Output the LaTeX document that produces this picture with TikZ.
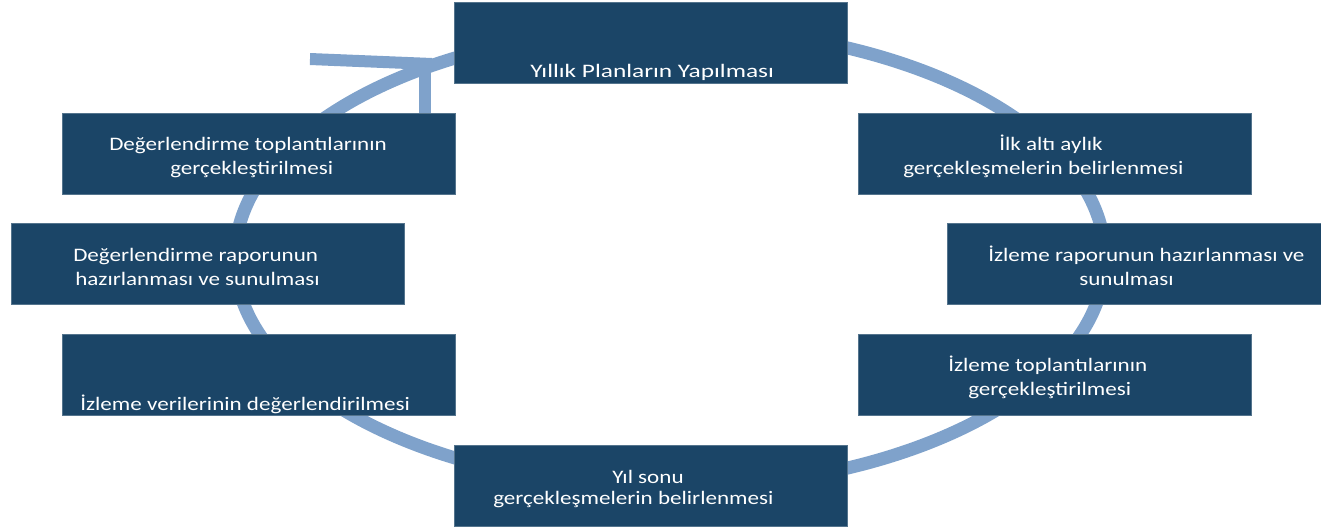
\documentclass[tikz,border=0pt]{standalone}
\usepackage{fontspec}
\setmainfont{Carlito}[FakeStretch=1.21]
\definecolor{boxblue}{RGB}{27,69,103}
\definecolor{ringblue}{RGB}{127,162,203}

\begin{document}
\begin{tikzpicture}[x=0.75pt,y=-0.75pt,line cap=butt,
    box/.style={fill=boxblue,draw=boxblue!75!white,line width=0.6pt,minimum width=294.75pt,minimum height=60.75pt,inner sep=0pt},
    txt/.style={text=white,align=left,anchor=base west,inner sep=0pt,font=\fontsize{14.3pt}{17.6pt}\selectfont},
    ring/.style={draw=ringblue,line width=9.75pt}]
      \useasboundingbox (0,0) rectangle (1321,529);
      \clip (0,0) rectangle (1321,529);

      % ring and the open arrow head on it
      \draw[ring] (670,258) ellipse [x radius=326.25pt,y radius=172.5pt];
      \draw[ring,line width=9pt] (310,59) -- (432,64);
      \draw[ring,line width=9pt] (425,61) -- (425,118);

      % boxes
      \node[box] (plan) at (650.5,43) {};
      \node[box] (altiay) at (1055,153.5) {};
      \node[box] (izrapor) at (1143.5,263.5) {};
      \node[box] (iztop) at (1055,374.5) {};
      \node[box] (yilsonu) at (650.5,486) {};
      \node[box] (izveri) at (259,374.5) {};
      \node[box] (degrapor) at (207.5,263.5) {};
      \node[box] (degtop) at (259,153.5) {};

      % texts (base = baseline of the last line)
      \node[txt,font=\fontsize{14.3pt}{17.6pt}\selectfont\addfontfeatures{FakeStretch=1.33}] (plan-t) at (530,77) {Yıllık Planların Yapılması};
      \node[txt] (altiay-t) at (903,174) {\hspace*{72pt}İlk altı aylık\\gerçekleşmelerin belirlenmesi};
      \node[txt] (izrapor-t) at (988,285) {İzleme raporunun hazırlanması ve\\\hspace*{68.25pt}sunulması};
      \node[txt] (iztop-t) at (948,395) {İzleme toplantılarının\\\hspace*{15pt}gerçekleştirilmesi};
      \node[txt,font=\fontsize{14.3pt}{15.75pt}\selectfont] (yilsonu-t) at (493,504) {\hspace*{89.25pt}Yıl sonu\\gerçekleşmelerin belirlenmesi};
      \node[txt] (izveri-t) at (80,410) {İzleme verilerinin değerlendirilmesi};
      \node[txt] (degrapor-t) at (73,285) {Değerlendirme raporunun\\\hspace*{1.5pt}hazırlanması ve sunulması};
      \node[txt] (degtop-t) at (109,174) {Değerlendirme toplantılarının\\\hspace*{45.75pt}gerçekleştirilmesi};
\end{tikzpicture}
\end{document}
